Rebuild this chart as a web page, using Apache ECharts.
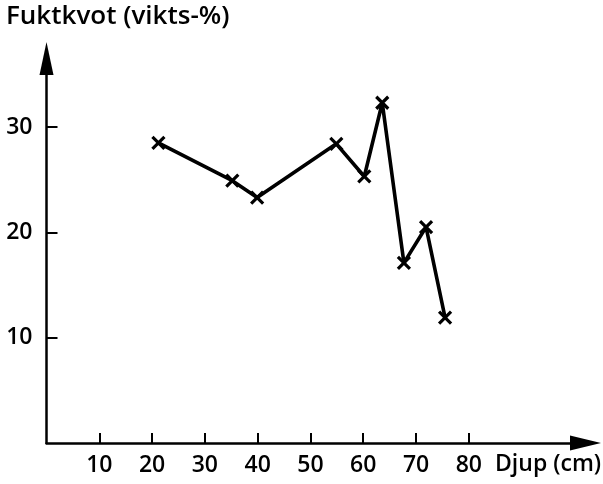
<!DOCTYPE html>
<html>
<head>
<meta charset="utf-8">
<script src="https://cdn.jsdelivr.net/npm/echarts@6/dist/echarts.min.js"></script>
<style>html,body{margin:0;padding:0;background:#fff}#c{width:603px;height:484px}</style>
</head>
<body>
<div id="c"></div>
<script>
const depth = [21.2, 35.2, 39.9, 54.9, 60.2, 63.6, 67.7, 71.9, 75.5];
const moisture = [28.5, 24.9, 23.3, 28.4, 25.3, 32.3, 17.1, 20.5, 11.9];
const xTicks = [10, 20, 30, 40, 50, 60, 70, 80];
const yTicks = [10, 20, 30];
const yTitle = 'Fuktkvot (vikts-%)';
const xTitle = 'Djup (cm)';

const FONT = '"Open Sans"';
const chart = echarts.init(document.getElementById('c'), null, {renderer: 'canvas'});
const cross = 'path://M0,0L10,10M10,0L0,10';
chart.setOption({
  animation: false,
  backgroundColor: '#fff',
  title: {
    text: yTitle, left: 6, top: 4, padding: 0,
    textStyle: {fontFamily: FONT, fontSize: 26, fontWeight: 600, color: '#000'}
  },
  graphic: [{
    type: 'text', left: 495, top: 453,
    style: {text: xTitle, font: '600 23px ' + FONT, fill: '#000'}
  }],
  grid: {left: 46.5, right: 17.5, top: 58.5, bottom: 41, containLabel: false},
  xAxis: {
    type: 'value', min: 0, max: 102.1, interval: 10,
    axisLine: {show: true, onZero: false, symbol: ['none', 'triangle'], symbolSize: [15, 31],
      lineStyle: {color: '#000', width: 2.5}},
    axisTick: {show: true, inside: true, length: 10, customValues: xTicks, lineStyle: {color: '#000', width: 2}},
    axisLabel: {show: true, customValues: xTicks, margin: 11, color: '#000',
      fontFamily: FONT, fontWeight: 600, fontSize: 23},
    splitLine: {show: false}
  },
  yAxis: {
    type: 'value', min: 0, max: 36.5, interval: 10,
    axisLine: {show: true, onZero: false, symbol: ['none', 'triangle'], symbolSize: [14, 33],
      lineStyle: {color: '#000', width: 2.5}},
    axisTick: {show: true, inside: true, length: 11, customValues: yTicks, lineStyle: {color: '#000', width: 2}},
    axisLabel: {show: true, customValues: yTicks, margin: 14, color: '#000',
      fontFamily: FONT, fontWeight: 600, fontSize: 23},
    splitLine: {show: false}
  },
  series: [{
    type: 'line',
    data: depth.map((d, i) => [d, moisture[i]]),
    symbol: cross, symbolSize: 12, showAllSymbol: true,
    lineStyle: {color: '#000', width: 3.6},
    itemStyle: {color: '#000', borderColor: '#000', borderWidth: 3.2}
  }]
});
</script>
</body>
</html>
